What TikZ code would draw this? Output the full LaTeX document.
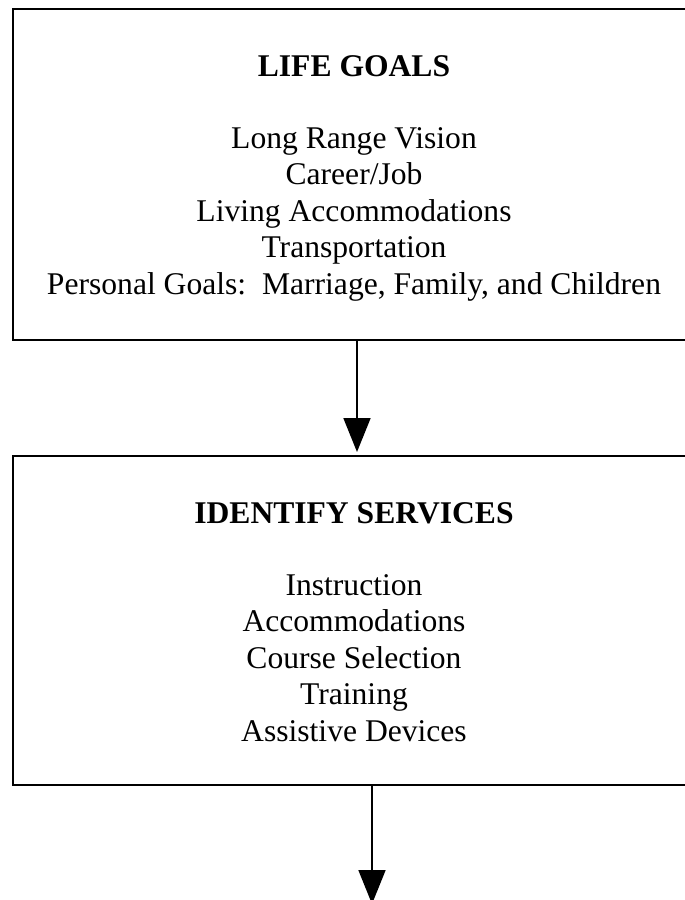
\documentclass[tikz,border=0pt]{standalone}
\usepackage{fontspec}
\setmainfont{Liberation Serif}
\usetikzlibrary{arrows.meta}
\begin{document}
\begin{tikzpicture}[x=1pt,y=1pt,
  box/.style={draw=black,line width=2.2pt,rectangle,inner sep=0pt,outer sep=0pt,minimum width=688pt},
  ttl/.style={anchor=base,inner sep=0pt,font=\fontsize{31.6}{36.5}\selectfont\bfseries},
  itm/.style={anchor=base,inner sep=0pt,font=\fontsize{31.6}{36.5}\selectfont},
  conn/.style={line width=1.8pt,-{Triangle[length=34pt,width=27pt]}}]
\useasboundingbox (0,0) rectangle (685,-900);
\clip (0,0) rectangle (685,-900);
% boxes
\node[box,minimum height=331pt] (b1) at (357,-174.5) {};
\node[box,minimum height=329pt] (b2) at (357,-620.5) {};
% box 1 texts
\node[ttl] (t1) at (354,-76) {LIFE GOALS};
\node[itm] (g1) at (354,-148) {Long Range Vision};
\node[itm] (g2) at (354,-184.5) {Career/Job};
\node[itm] (g3) at (354,-221) {Living Accommodations};
\node[itm] (g4) at (354,-257.5) {Transportation};
\node[itm] (g5) at (354,-294) {Personal Goals:\ \ Marriage, Family, and Children};
% box 2 texts
\node[ttl] (t2) at (354,-523) {IDENTIFY SERVICES};
\node[itm] (s1) at (354,-595) {Instruction};
\node[itm] (s2) at (354,-631.5) {Accommodations};
\node[itm] (s3) at (354,-668) {Course Selection};
\node[itm] (s4) at (354,-704.5) {Training};
\node[itm] (s5) at (354,-741) {Assistive Devices};
% connectors
\draw[conn,shorten >=4pt] (b1.south) -- (b2.north);
\coordinate (end) at (372,-904);
\draw[conn] ([xshift=15pt]b2.south) -- (end);
\end{tikzpicture}
\end{document}
